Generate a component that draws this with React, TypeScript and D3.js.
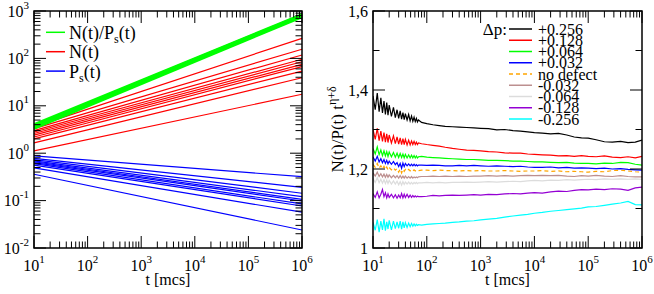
import React from 'react';
import * as d3 from 'd3';

// ---- left panel: straight power-law lines, [value at t=10, value at t=1e6]
const lineT = [10, 1e6];
const greenStart = [3.3, 3.5, 3.7, 3.9, 4.1];
const greenEnd = [740, 770, 800, 830, 855];
const redStart = [3.6, 3.3, 3.0, 2.8, 2.6, 2.4, 2.2, 2.0, 1.65, 1.12];
const redEnd = [265, 156, 118, 96, 85, 75, 67, 54, 39, 17.5];
const blueStart = [0.88, 0.78, 0.73, 0.69, 0.66, 0.63, 0.6, 0.56, 0.49, 0.36];
const blueEnd = [0.319, 0.191, 0.143, 0.121, 0.106, 0.098, 0.085, 0.077, 0.057, 0.024];

const leftLegend = ['N(t)/P', 'N(t)', 'P'];
const leftLegendSub = ['s', '', 's'];
const leftLegendTail = ['(t)', '', '(t)'];
const leftLegendColors = ['#00ff00', '#ff0000', '#0000ff'];

// ---- right panel: N(t)/P(t) t^(eta+delta)
const times = [
  10, 11, 12, 13, 14, 15, 16, 17, 18, 19, 20,
  22, 24, 26, 28, 30, 32, 34, 36, 38, 40,
  43, 46, 49, 52, 55, 58, 61, 64, 67, 70,
  80, 100, 130, 170, 220, 300, 400, 550, 750, 1000,
  1400, 2000, 2800, 4000, 5500, 7500, 10000,
  14000, 20000, 28000, 40000, 55000, 75000, 100000,
  140000, 200000, 280000, 400000, 550000, 750000, 1000000,
];

const sBlack = [
  1.385, 1.350, 1.392, 1.345, 1.380, 1.342, 1.372, 1.338, 1.368, 1.336, 1.362,
  1.333, 1.356, 1.330, 1.350, 1.328, 1.347, 1.326, 1.343, 1.325, 1.340,
  1.324, 1.338, 1.322, 1.334, 1.321, 1.331, 1.320, 1.328, 1.319, 1.324,
  1.318, 1.315, 1.312, 1.310, 1.308, 1.307, 1.306, 1.305, 1.304, 1.303,
  1.302, 1.299, 1.300, 1.297, 1.296, 1.294, 1.292,
  1.291, 1.289, 1.290, 1.286, 1.281, 1.279, 1.278,
  1.274, 1.269, 1.268, 1.270, 1.267, 1.268, 1.273,
];
const sRed = [
  1.300, 1.275, 1.303, 1.272, 1.296, 1.270, 1.292, 1.268, 1.289, 1.267, 1.286,
  1.266, 1.284, 1.264, 1.281, 1.263, 1.279, 1.262, 1.277, 1.262, 1.275,
  1.261, 1.273, 1.261, 1.271, 1.262, 1.270, 1.262, 1.268, 1.262, 1.266,
  1.264, 1.262, 1.260, 1.258, 1.255, 1.252, 1.250, 1.248, 1.247, 1.246,
  1.244, 1.243, 1.241, 1.240, 1.240, 1.238, 1.237,
  1.236, 1.235, 1.233, 1.234, 1.232, 1.234, 1.232,
  1.231, 1.233, 1.230, 1.229, 1.231, 1.228, 1.232,
];
const sGreen = [
  1.252, 1.238, 1.256, 1.236, 1.248, 1.234, 1.246, 1.233, 1.244, 1.232, 1.243,
  1.231, 1.242, 1.230, 1.240, 1.229, 1.239, 1.229, 1.238, 1.228, 1.237,
  1.228, 1.236, 1.228, 1.235, 1.228, 1.234, 1.228, 1.233, 1.228, 1.231,
  1.232, 1.230, 1.229, 1.228, 1.227, 1.226, 1.225, 1.224, 1.224, 1.223,
  1.222, 1.222, 1.221, 1.220, 1.220, 1.219, 1.218,
  1.218, 1.217, 1.216, 1.217, 1.215, 1.214, 1.214,
  1.213, 1.215, 1.214, 1.217, 1.216, 1.212, 1.210,
];
const sBlue = [
  1.230, 1.220, 1.232, 1.218, 1.226, 1.216, 1.224, 1.214, 1.222, 1.213, 1.220,
  1.212, 1.219, 1.211, 1.216, 1.206, 1.214, 1.202, 1.215, 1.206, 1.214,
  1.208, 1.213, 1.208, 1.212, 1.208, 1.212, 1.208, 1.211, 1.208, 1.210,
  1.210, 1.209, 1.210, 1.209, 1.208, 1.208, 1.209, 1.208, 1.209, 1.208,
  1.207, 1.208, 1.207, 1.206, 1.207, 1.205, 1.204,
  1.204, 1.205, 1.203, 1.204, 1.202, 1.203, 1.202,
  1.201, 1.202, 1.200, 1.201, 1.199, 1.198, 1.197,
];
const sOrange = [
  1.212, 1.204, 1.214, 1.202, 1.208, 1.200, 1.207, 1.199, 1.205, 1.198, 1.204,
  1.198, 1.203, 1.197, 1.201, 1.192, 1.200, 1.190, 1.199, 1.194, 1.199,
  1.195, 1.199, 1.195, 1.198, 1.195, 1.198, 1.195, 1.197, 1.195, 1.196,
  1.197, 1.197, 1.196, 1.197, 1.196, 1.196, 1.195, 1.196, 1.195, 1.196,
  1.195, 1.195, 1.196, 1.195, 1.194, 1.195, 1.195,
  1.196, 1.194, 1.195, 1.193, 1.194, 1.193, 1.192,
  1.194, 1.193, 1.196, 1.197, 1.195, 1.193, 1.192,
];
const sBrown = [
  1.190, 1.182, 1.192, 1.181, 1.188, 1.180, 1.187, 1.179, 1.186, 1.179, 1.185,
  1.178, 1.184, 1.178, 1.183, 1.177, 1.183, 1.177, 1.182, 1.177, 1.182,
  1.177, 1.181, 1.177, 1.181, 1.177, 1.180, 1.178, 1.180, 1.178, 1.180,
  1.181, 1.181, 1.182, 1.181, 1.182, 1.181, 1.182, 1.181, 1.182, 1.182,
  1.183, 1.182, 1.183, 1.182, 1.183, 1.184, 1.183,
  1.184, 1.183, 1.184, 1.182, 1.181, 1.183, 1.182,
  1.184, 1.182, 1.181, 1.183, 1.181, 1.180, 1.180,
];
const sGrey = [
  1.176, 1.166, 1.178, 1.165, 1.174, 1.164, 1.173, 1.163, 1.172, 1.163, 1.171,
  1.162, 1.170, 1.162, 1.169, 1.160, 1.168, 1.159, 1.168, 1.161, 1.167,
  1.162, 1.167, 1.162, 1.166, 1.162, 1.166, 1.163, 1.166, 1.163, 1.165,
  1.165, 1.166, 1.165, 1.166, 1.165, 1.166, 1.166, 1.167, 1.166, 1.167,
  1.168, 1.167, 1.168, 1.169, 1.168, 1.170, 1.171,
  1.170, 1.172, 1.171, 1.173, 1.172, 1.173, 1.174,
  1.173, 1.175, 1.174, 1.175, 1.174, 1.175, 1.174,
];
const sViolet = [
  1.138, 1.128, 1.142, 1.127, 1.136, 1.148, 1.130, 1.140, 1.127, 1.137, 1.128,
  1.136, 1.127, 1.135, 1.126, 1.134, 1.127, 1.138, 1.127, 1.136, 1.128,
  1.136, 1.128, 1.134, 1.128, 1.133, 1.129, 1.132, 1.129, 1.131, 1.130,
  1.130, 1.131, 1.133, 1.132, 1.133, 1.134, 1.133, 1.134, 1.135, 1.134,
  1.136, 1.135, 1.137, 1.138, 1.137, 1.139, 1.140,
  1.139, 1.142, 1.144, 1.143, 1.146, 1.148, 1.147,
  1.149, 1.148, 1.150, 1.149, 1.146, 1.152, 1.154,
];
const sCyan = [
  1.065, 1.045, 1.072, 1.040, 1.068, 1.046, 1.074, 1.044, 1.066, 1.048, 1.070,
  1.046, 1.068, 1.049, 1.066, 1.050, 1.068, 1.048, 1.066, 1.051, 1.064,
  1.052, 1.063, 1.054, 1.062, 1.055, 1.061, 1.056, 1.060, 1.057, 1.059,
  1.058, 1.060, 1.061, 1.062, 1.063, 1.065, 1.066, 1.068, 1.069, 1.071,
  1.073, 1.075, 1.078, 1.081, 1.083, 1.085, 1.088,
  1.090, 1.093, 1.095, 1.097, 1.099, 1.101, 1.104,
  1.105, 1.108, 1.111, 1.114, 1.118, 1.110, 1.109,
];

const rightSeries = [sBlack, sRed, sGreen, sBlue, sOrange, sBrown, sGrey, sViolet, sCyan];
const rightLabels = ['+0.256', '+0.128', '+0.064', '+0.032', 'no defect', '-0.032', '-0.064', '-0.128', '-0.256'];
const rightColors = ['#000000', '#ff0000', '#00ff00', '#0000ff', '#ffa500', '#bc8f8f', '#dcdcdc', '#9400d3', '#00ffff'];
const rightDashed = [false, false, false, false, true, false, false, false, false];

const xExps = [1, 2, 3, 4, 5, 6];
const leftYExps = [-2, -1, 0, 1, 2, 3];
const rightYMajor = [1, 1.2, 1.4, 1.6];
const rightYMinor = [1.1, 1.3, 1.5];
const rightYLabels = ['1', '1,2', '1,4', '1,6'];

const FONT = '"Liberation Serif", "DejaVu Serif", serif';
const MAJOR = 12;
const MINOR = 6.5;

const isDecade = (v: number) => Math.abs(Math.log10(v) - Math.round(Math.log10(v))) < 1e-9;

const L = { x0: 34, x1: 302, y0: 11, y1: 248 };
const R = { x0: 373, x1: 642, y0: 11, y1: 248 };

const App: React.FC = () => {
  const xL = d3.scaleLog().domain([10, 1e6]).range([L.x0, L.x1]);
  const yL = d3.scaleLog().domain([0.01, 1000]).range([L.y1, L.y0]);
  const xR = d3.scaleLog().domain([10, 1e6]).range([R.x0, R.x1]);
  const yR = d3.scaleLinear().domain([1, 1.6]).range([R.y1, R.y0]);

  const xTicks = xL.ticks();
  const yTicksL = yL.ticks();

  const straight = (x: typeof xL, y: typeof yL) =>
    d3.line<[number, number]>().x(d => x(d[0])).y(d => y(d[1]));
  const lineL = straight(xL, yL);
  const lineR = d3.line<number>().x((_, i) => xR(times[i])).y(d => yR(d));

  // ticks on all four sides, pointing inward
  const logXTicks = (x: typeof xL, box: typeof L) =>
    xTicks.map((t, i) => {
      const len = isDecade(t) ? MAJOR : MINOR;
      const px = x(t);
      return (
        <g key={'xt' + i}>
          <line x1={px} x2={px} y1={box.y1} y2={box.y1 - len} stroke="#000" strokeWidth={1} />
          <line x1={px} x2={px} y1={box.y0} y2={box.y0 + len} stroke="#000" strokeWidth={1} />
        </g>
      );
    });

  const xLabels = (x: typeof xL, key: string) =>
    xExps.map(e => (
      <text key={key + e} x={x(Math.pow(10, e))} y={271} textAnchor="middle" fontSize={16}>
        10<tspan dy={-8} fontSize={11}>{e}</tspan>
      </text>
    ));

  return (
    <svg width={654} height={294} style={{ position: 'absolute', left: 0, top: 0, background: '#fff' }}
      fontFamily={FONT}>
      <rect width={654} height={294} fill="#fff" />

      {/* ---------- left panel ---------- */}
      <g>
        {redStart.map((s, i) => (
          <path key={'r' + i} d={lineL([[lineT[0], s], [lineT[1], redEnd[i]]]) || ''}
            fill="none" stroke="#ff0000" strokeWidth={1.2} />
        ))}
        {blueStart.map((s, i) => (
          <path key={'b' + i} d={lineL([[lineT[0], s], [lineT[1], blueEnd[i]]]) || ''}
            fill="none" stroke="#0000ff" strokeWidth={1.2} />
        ))}
        {greenStart.map((s, i) => (
          <path key={'g' + i} d={lineL([[lineT[0], s], [lineT[1], greenEnd[i]]]) || ''}
            fill="none" stroke="#00ff00" strokeWidth={2.2} />
        ))}

        {logXTicks(xL, L)}
        {yTicksL.map((t, i) => {
          const len = isDecade(t) ? MAJOR : MINOR;
          const py = yL(t);
          return (
            <g key={'ylt' + i}>
              <line x1={L.x0} x2={L.x0 + len} y1={py} y2={py} stroke="#000" strokeWidth={1} />
              <line x1={L.x1} x2={L.x1 - len} y1={py} y2={py} stroke="#000" strokeWidth={1} />
            </g>
          );
        })}
        <rect x={L.x0} y={L.y0} width={L.x1 - L.x0} height={L.y1 - L.y0} fill="none" stroke="#000" strokeWidth={1.5} />

        {leftYExps.map(e => (
          <text key={'yl' + e} x={29} y={yL(Math.pow(10, e)) + 5.5} textAnchor="end" fontSize={16}>
            10<tspan dy={-8} fontSize={11}>{e}</tspan>
          </text>
        ))}
        {xLabels(xL, 'xl')}
        <text x={(L.x0 + L.x1) / 2} y={285} textAnchor="middle" fontSize={16}>t [mcs]</text>

        {leftLegend.map((lab, i) => {
          const ly = 32.3 + i * 19.4;
          return (
            <g key={'ll' + i}>
              <line x1={46} x2={65} y1={ly} y2={ly} stroke={leftLegendColors[i]} strokeWidth={1.5} />
              <text x={69} y={ly + 6.5} fontSize={18}>
                {lab}
                {leftLegendSub[i] && <tspan dy={4} fontSize={12}>{leftLegendSub[i]}</tspan>}
                {leftLegendTail[i] && <tspan dy={-4} fontSize={18}>{leftLegendTail[i]}</tspan>}
              </text>
            </g>
          );
        })}
      </g>

      {/* ---------- right panel ---------- */}
      <g>
        <defs>
          <clipPath id="clipR">
            <rect x={R.x0} y={R.y0} width={R.x1 - R.x0} height={R.y1 - R.y0} />
          </clipPath>
        </defs>
        <g clipPath="url(#clipR)">
          {rightSeries.map((s, i) => (
            <path key={'s' + i} d={lineR(s) || ''} fill="none" stroke={rightColors[i]}
              strokeWidth={1.2} strokeDasharray={rightDashed[i] ? '4 3' : undefined} />
          )).reverse()}
        </g>

        {logXTicks(xR, R)}
        {rightYMajor.concat(rightYMinor).map((v, i) => {
          const len = i < rightYMajor.length ? MAJOR : MINOR;
          const py = yR(v);
          return (
            <g key={'yrt' + i}>
              <line x1={R.x0} x2={R.x0 + len} y1={py} y2={py} stroke="#000" strokeWidth={1} />
              <line x1={R.x1} x2={R.x1 - len} y1={py} y2={py} stroke="#000" strokeWidth={1} />
            </g>
          );
        })}
        <rect x={R.x0} y={R.y0} width={R.x1 - R.x0} height={R.y1 - R.y0} fill="none" stroke="#000" strokeWidth={1.5} />

        {rightYMajor.map((v, i) => (
          <text key={'yrl' + i} x={368} y={yR(v) + 5.5} textAnchor="end" fontSize={16}>{rightYLabels[i]}</text>
        ))}
        {xLabels(xR, 'xr')}
        <text x={(R.x0 + R.x1) / 2} y={285} textAnchor="middle" fontSize={16}>t [mcs]</text>
        <text transform={`translate(343,${(R.y0 + R.y1) / 2}) rotate(-90)`} textAnchor="middle" fontSize={17}>
          N(t)/P(t) t<tspan dy={-7} fontSize={12}>η+δ</tspan>
        </text>

        <text x={507} y={35} textAnchor="end" fontSize={17}>Δp:</text>
        {rightLabels.map((lab, i) => {
          const ly = 29 + i * 11.25;
          return (
            <g key={'rl' + i}>
              <line x1={509} x2={532} y1={ly} y2={ly} stroke={rightColors[i]} strokeWidth={1.5}
                strokeDasharray={rightDashed[i] ? '4 3' : undefined} />
              <text x={538} y={ly + 5.5} fontSize={16}>{lab}</text>
            </g>
          );
        })}
      </g>
    </svg>
  );
};

export default App;
